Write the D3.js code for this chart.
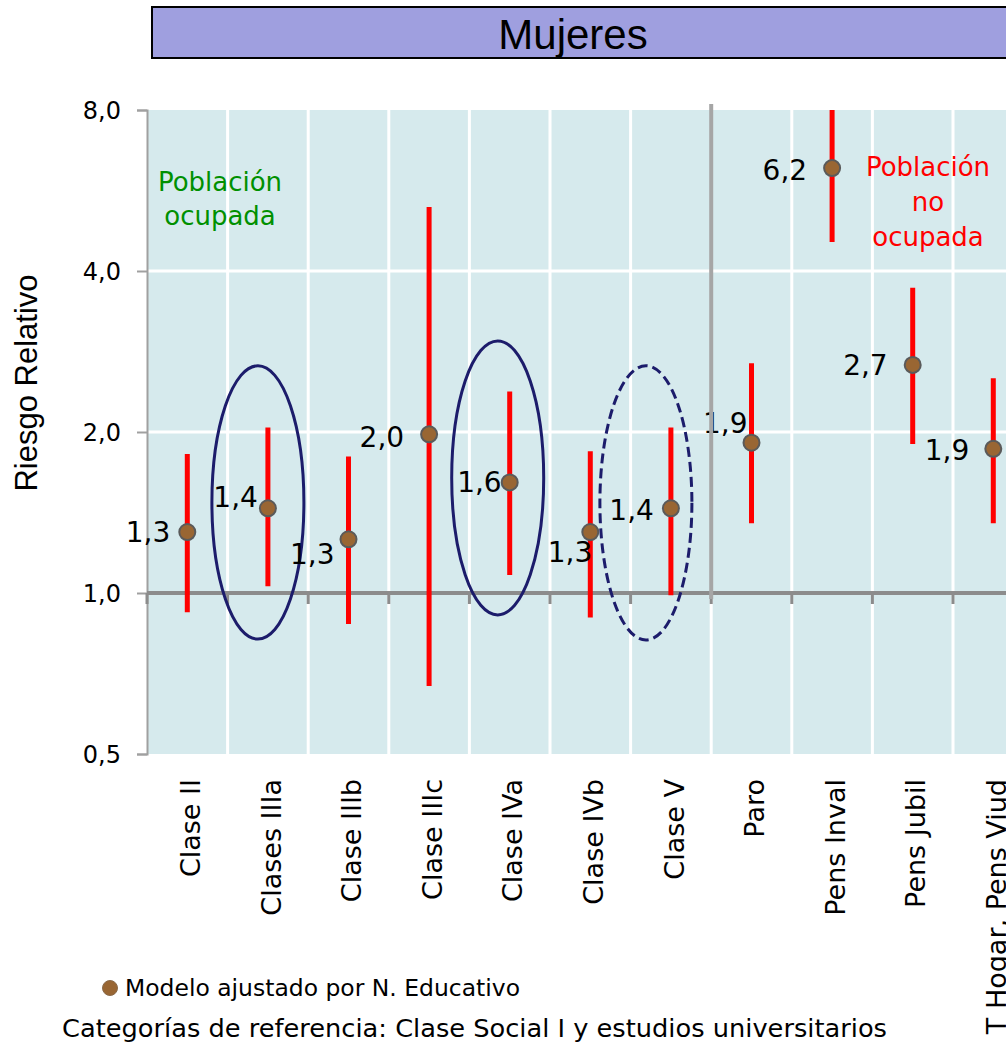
<!DOCTYPE html>
<html>
<head>
<meta charset="utf-8">
<script src="https://cdn.jsdelivr.net/npm/d3@7/dist/d3.min.js"></script>
<style>
  html, body { margin: 0; padding: 0; background: #ffffff; overflow: hidden; }
  svg { display: block; }
</style>
</head>
<body>
<svg id="chart" width="1006" height="1054"></svg>
<script>
// Riesgo relativo (escala logarítmica) por clase social / situación laboral, mujeres
const categories = ["Clase II", "Clases IIIa", "Clase IIIb", "Clase IIIc", "Clase IVa",
  "Clase IVb", "Clase V", "Paro", "Pens Inval", "Pens Jubil", "T Hogar, Pens Viud"];
const riesgo   = [1.30, 1.44, 1.26, 1.98, 1.61, 1.30, 1.44, 1.91, 6.23, 2.67, 1.86];
const icInf    = [0.92, 1.03, 0.875, 0.67, 1.08, 0.90, 0.99, 1.35, 4.53, 1.90, 1.35];
const icSup    = [1.82, 2.04, 1.80, 5.27, 2.38, 1.84, 2.04, 2.69, 8.0, 3.72, 2.52];
const yTicks   = [0.5, 1, 2, 4, 8];
const ocupadas = 7; // las siete primeras categorías son población ocupada

// categorías resaltadas con una elipse: [categoría, RR superior, RR inferior, discontinua]
const resaltadas = [
  ["Clases IIIa", 2.66, 0.82, false],
  ["Clase IVa", 2.96, 0.91, false],
  ["Clase V", 2.66, 0.817, true]
];

// desplazamiento de cada etiqueta de valor respecto a su punto [dx, dy]
const labelOffsets = [[-17, 0], [-10, -11], [-14, 15], [-25, 3], [-8, 0], [2, 20],
  [-17, 2], [-4, -20], [-25, 2], [-25, 0], [-24, 1]];
// desplazamiento horizontal del centro de cada elipse
const ellipseShift = [-10, -12, -25];

const svg = d3.select("#chart");
const M = { left: 147, top: 110, bottom: 754 };
const bandW = 80.6;

const x = d3.scaleBand()
  .domain(categories)
  .range([M.left, M.left + bandW * categories.length])
  .padding(0);
const y = d3.scaleLog().base(2).domain([0.5, 8]).range([M.bottom, M.top]);
const cx = c => x(c) + x.bandwidth() / 2;
const fmt = v => d3.format(".1f")(v).replace(".", ",");

const sans = "'DejaVu Sans', Verdana, sans-serif";
const arial = "'Liberation Sans', Arial, sans-serif";

// Barra de título
svg.append("rect")
  .attr("x", 152).attr("y", 7).attr("width", 900).attr("height", 51)
  .attr("fill", "#9f9fdf").attr("stroke", "#000").attr("stroke-width", 2);
svg.append("text")
  .attr("x", 573).attr("y", 49)
  .attr("text-anchor", "middle")
  .attr("font-family", arial).attr("font-size", 42)
  .attr("fill", "#000")
  .text("Mujeres");

// Área de trazado
const plotW = x.range()[1] - M.left;
svg.append("rect")
  .attr("x", M.left).attr("y", M.top)
  .attr("width", plotW).attr("height", M.bottom - M.top)
  .attr("fill", "#d6eaed");

// Rejilla blanca vertical (límites de categoría) y horizontal
const bounds = categories.map(c => x(c)).concat([x.range()[1]]);
svg.append("g").selectAll("line").data(bounds.slice(1)).join("line")
  .attr("x1", d => d).attr("x2", d => d)
  .attr("y1", M.top).attr("y2", M.bottom)
  .attr("stroke", "#ffffff").attr("stroke-width", 3);
svg.append("g").selectAll("line").data([2, 4]).join("line")
  .attr("x1", M.left).attr("x2", x.range()[1])
  .attr("y1", d => y(d)).attr("y2", d => y(d))
  .attr("stroke", "#ffffff").attr("stroke-width", 3);

// Eje Y
const yAxis = d3.axisLeft(y)
  .tickValues(yTicks)
  .tickFormat(fmt)
  .tickSize(10)
  .tickPadding(16);
const gy = svg.append("g").attr("transform", `translate(${M.left},0)`).call(yAxis);
gy.select(".domain").attr("stroke", "#a0a0a0").attr("stroke-width", 2);
gy.selectAll(".tick line").attr("stroke", "#a0a0a0").attr("stroke-width", 2);
gy.selectAll(".tick text")
  .attr("font-family", sans).attr("font-size", 24).attr("fill", "#000")
  .attr("dy", "0.36em");

// Línea de referencia RR = 1 con marcas de categoría
svg.append("line")
  .attr("x1", M.left).attr("x2", x.range()[1])
  .attr("y1", y(1)).attr("y2", y(1))
  .attr("stroke", "#8c8c8c").attr("stroke-width", 4);
svg.append("g").selectAll("line").data(bounds).join("line")
  .attr("x1", d => d).attr("x2", d => d)
  .attr("y1", y(1)).attr("y2", y(1) + 11)
  .attr("stroke", "#8c8c8c").attr("stroke-width", 3);

// Etiquetas de categoría giradas
svg.append("g").selectAll("text").data(categories).join("text")
  .attr("transform", d => `translate(${cx(d) + 3},779) rotate(-90)`)
  .attr("text-anchor", "end")
  .attr("dy", "0.36em")
  .attr("font-family", sans).attr("font-size", 27).attr("fill", "#000")
  .text(d => d);

// Título del eje Y
svg.append("text")
  .attr("transform", "translate(37,383) rotate(-90)")
  .attr("text-anchor", "middle")
  .attr("font-family", arial).attr("font-size", 31).attr("fill", "#000")
  .text("Riesgo Relativo");

// Anotaciones de grupo
const ann = (lines, xc, y0, lh, color) => {
  const t = svg.append("text")
    .attr("text-anchor", "middle")
    .attr("font-family", sans).attr("font-size", 26).attr("fill", color);
  lines.forEach((l, i) => t.append("tspan").attr("x", xc).attr("y", y0 + i * lh).text(l));
};
ann(["Población", "ocupada"], 220, 191, 34, "#009000");
ann(["Población", "no", "ocupada"], 928, 176, 35, "#ff0000");

// Elipses que resaltan categorías
svg.append("g").selectAll("ellipse").data(resaltadas).join("ellipse")
  .attr("cx", (d, i) => cx(d[0]) + ellipseShift[i])
  .attr("cy", d => (y(d[1]) + y(d[2])) / 2)
  .attr("rx", 46)
  .attr("ry", d => (y(d[2]) - y(d[1])) / 2)
  .attr("fill", "none")
  .attr("stroke", "#1c1c6b").attr("stroke-width", 3)
  .attr("stroke-dasharray", d => d[3] ? "10,5" : null);

// Intervalos de confianza
const clip = svg.append("clipPath").attr("id", "plotclip")
  .append("rect").attr("x", M.left).attr("y", M.top)
  .attr("width", plotW).attr("height", M.bottom - M.top);
svg.append("g").attr("clip-path", "url(#plotclip)")
  .selectAll("line").data(categories).join("line")
  .attr("x1", d => cx(d)).attr("x2", d => cx(d))
  .attr("y1", (d, i) => y(icSup[i])).attr("y2", (d, i) => y(icInf[i]))
  .attr("stroke", "#ff0000").attr("stroke-width", 5);

// Etiquetas de valor
svg.append("g").selectAll("text").data(categories).join("text")
  .attr("x", (d, i) => cx(d) + labelOffsets[i][0])
  .attr("y", (d, i) => y(riesgo[i]) + labelOffsets[i][1])
  .attr("dy", "0.36em")
  .attr("text-anchor", "end")
  .attr("font-family", sans).attr("font-size", 28).attr("fill", "#000")
  .text((d, i) => fmt(riesgo[i]));

// Separador entre población ocupada y no ocupada
svg.append("line")
  .attr("x1", x(categories[ocupadas])).attr("x2", x(categories[ocupadas]))
  .attr("y1", M.top - 6).attr("y2", y(1) + 6)
  .attr("stroke", "#a6a6a6").attr("stroke-width", 4);

// Estimaciones puntuales
svg.append("g").selectAll("circle").data(categories).join("circle")
  .attr("cx", d => cx(d))
  .attr("cy", (d, i) => y(riesgo[i]))
  .attr("r", 8)
  .attr("fill", "#996633")
  .attr("stroke", "#5a5a5a").attr("stroke-width", 2);

// Leyenda y nota
svg.append("circle")
  .attr("cx", 110).attr("cy", 988).attr("r", 7.5)
  .attr("fill", "#996633").attr("stroke", "#8a6a4a").attr("stroke-width", 1);
svg.append("text")
  .attr("x", 125).attr("y", 996)
  .attr("font-family", sans).attr("font-size", 23).attr("fill", "#000")
  .attr("textLength", 395).attr("lengthAdjust", "spacingAndGlyphs")
  .text("Modelo ajustado por N. Educativo");
svg.append("text")
  .attr("x", 62).attr("y", 1037)
  .attr("font-family", sans).attr("font-size", 24).attr("fill", "#000")
  .attr("textLength", 825).attr("lengthAdjust", "spacingAndGlyphs")
  .text("Categorías de referencia: Clase Social I y estudios universitarios");
</script>
</body>
</html>
